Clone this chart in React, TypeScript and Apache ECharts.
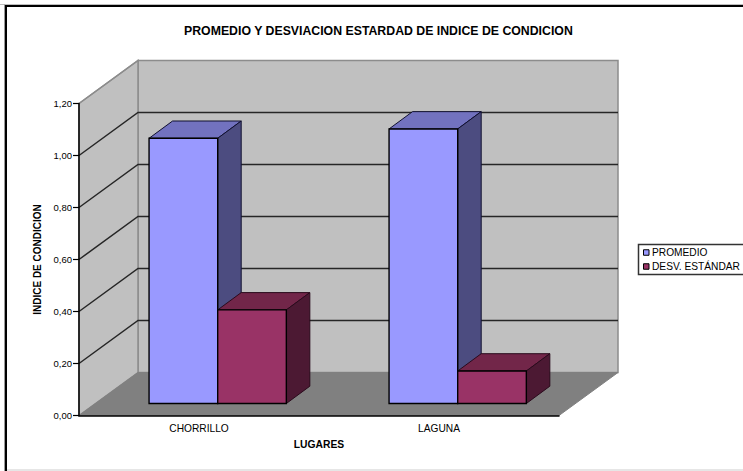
import React, { useEffect, useRef } from "react";
import * as echarts from "echarts";

const chartTitle = "PROMEDIO Y DESVIACION ESTARDAD DE INDICE DE CONDICION";
const categories = ["CHORRILLO", "LAGUNA"];
const promedio = [1.02, 1.056];
const desviacion = [0.36, 0.125];
const yTicks = [0.2, 0.4, 0.6, 0.8, 1.0, 1.2];
const seriesNames = ["PROMEDIO", "DESV. ESTÁNDAR"];

const FONT = '"Liberation Sans", Arial, sans-serif';

// Oblique projection of the box that holds the plot.
const WALL_DX = 59;
const WALL_DY = -43;
// Where the bars stand inside that box, and how deep they are.
const BAR_FRONT_DX = 18.7;
const BAR_FRONT_DY = -12;
const BAR_DEPTH_DX = 23.5;
const BAR_DEPTH_DY = -17.3;
const BAR_BAND_RATIO = 0.286;

const palette = [
  { front: "#9999FF", top: "#7272BF", side: "#4C4C80" },
  { front: "#993366", top: "#722649", side: "#4C1933" },
];

function poly(points: number[][], fill: string, stroke: string, lineWidth = 1) {
  return { type: "polygon", shape: { points }, style: { fill, stroke, lineWidth } };
}

// Back wall, side wall and floor.
function renderWalls(params: any, api: any) {
  const cs = params.coordSys;
  const x0 = cs.x;
  const x1 = cs.x + cs.width;
  const yBase = api.coord([0, 0])[1];
  const yTop = api.coord([0, 1.2])[1];
  const edge = "#8C8C8C";
  return {
    type: "group",
    children: [
      poly(
        [[x0 + WALL_DX, yTop + WALL_DY], [x1 + WALL_DX, yTop + WALL_DY], [x1 + WALL_DX, yBase + WALL_DY], [x0 + WALL_DX, yBase + WALL_DY]],
        "#C0C0C0", edge, 1.5,
      ),
      poly(
        [[x0, yTop], [x0 + WALL_DX, yTop + WALL_DY], [x0 + WALL_DX, yBase + WALL_DY], [x0, yBase]],
        "#C0C0C0", edge, 1.5,
      ),
      poly(
        [[x0, yBase], [x1, yBase], [x1 + WALL_DX, yBase + WALL_DY], [x0 + WALL_DX, yBase + WALL_DY]],
        "#808080", "#808080", 1,
      ),
    ],
  };
}

// Grid line running along the side wall and across the back wall.
function renderGridLine(params: any, api: any) {
  const cs = params.coordSys;
  const y = api.coord([0, api.value(1)])[1];
  if (api.value(1) >= 1.2) {
    return {
      type: "line",
      shape: { x1: cs.x, y1: y, x2: cs.x + WALL_DX, y2: y + WALL_DY },
      style: { stroke: "#8C8C8C", lineWidth: 1.5 },
    };
  }
  return {
    type: "polyline",
    shape: { points: [[cs.x, y], [cs.x + WALL_DX, y + WALL_DY], [cs.x + cs.width + WALL_DX, y + WALL_DY]] },
    style: { fill: "none", stroke: "#262626", lineWidth: 1.5 },
  };
}

function barRenderer(seriesIndex: number) {
  return (_params: any, api: any) => {
    const colors = palette[seriesIndex];
    const center = api.coord([api.value(0), api.value(1)]);
    const yBase = api.coord([api.value(0), 0])[1] + BAR_FRONT_DY;
    const yTop = center[1] + BAR_FRONT_DY;
    const width = api.size([1, 0])[0] * BAR_BAND_RATIO;
    const left = center[0] - width + BAR_FRONT_DX + seriesIndex * width;
    const right = left + width;
    const edge = seriesIndex === 0 ? "#101030" : "#2A0A1C";
    return {
      type: "group",
      children: [
        poly(
          [[left, yTop], [right, yTop], [right + BAR_DEPTH_DX, yTop + BAR_DEPTH_DY], [left + BAR_DEPTH_DX, yTop + BAR_DEPTH_DY]],
          colors.top, edge, 1,
        ),
        poly(
          [[right, yTop], [right + BAR_DEPTH_DX, yTop + BAR_DEPTH_DY], [right + BAR_DEPTH_DX, yBase + BAR_DEPTH_DY], [right, yBase]],
          colors.side, edge, 1,
        ),
        poly([[left, yTop], [right, yTop], [right, yBase], [left, yBase]], colors.front, "#000000", 1.4),
      ],
    };
  };
}

export default function App() {
  const ref = useRef<HTMLDivElement>(null);

  useEffect(() => {
    const chart = echarts.init(ref.current!, undefined, { renderer: "svg" });
    chart.setOption({
      animation: false,
      backgroundColor: "#FFFFFF",
      textStyle: { fontFamily: FONT },
      title: {
        text: chartTitle,
        left: 184,
        top: 25,
        padding: 0,
        textStyle: { fontFamily: FONT, fontSize: 12.3, fontWeight: "bold", color: "#000000" },
      },
      legend: {
        orient: "vertical",
        left: 638.5,
        top: 244.5,
        padding: [3, 12, 3, 4.5],
        itemWidth: 5.5,
        itemHeight: 5.5,
        itemGap: 4,
        borderColor: "#333333",
        borderWidth: 1.5,
        icon: "rect",
        selectedMode: false,
        textStyle: { fontFamily: FONT, fontSize: 10.2, color: "#000000", padding: [0, 0, 0, -2] },
        data: seriesNames.map((name, i) => ({
          name,
          itemStyle: { color: palette[i].front, borderColor: "#000000", borderWidth: 1 },
        })),
      },
      grid: { left: 79, top: 103.5, width: 480, height: 312, containLabel: false },
      xAxis: {
        type: "category",
        data: categories,
        z: 6,
        name: "LUGARES",
        nameLocation: "middle",
        nameGap: 24,
        nameTextStyle: { fontFamily: FONT, fontSize: 10.3, fontWeight: "bold", color: "#000000" },
        axisLine: { lineStyle: { color: "#000000", width: 1.5 } },
        axisTick: { alignWithLabel: false, length: 5, lineStyle: { color: "#000000", width: 1.2 } },
        axisLabel: { fontFamily: FONT, fontSize: 10.2, color: "#000000", margin: 8 },
      },
      yAxis: {
        type: "value",
        min: 0,
        max: 1.2,
        interval: 0.2,
        z: 6,
        name: "INDICE DE CONDICION",
        nameLocation: "middle",
        nameGap: 36,
        nameTextStyle: { fontFamily: FONT, fontSize: 10, fontWeight: "bold", color: "#000000" },
        splitLine: { show: false },
        axisLine: { show: true, lineStyle: { color: "#000000", width: 1.5 } },
        axisTick: { show: true, length: 6, lineStyle: { color: "#000000", width: 1.2 } },
        axisLabel: {
          fontFamily: FONT,
          fontSize: 9.5,
          color: "#000000",
          margin: 7,
          formatter: (v: number) => v.toFixed(2).replace(".", ","),
        },
      },
      series: [
        {
          type: "custom",
          name: "walls",
          silent: true,
          z: 1,
          renderItem: renderWalls,
          data: [[0, 0]],
        },
        {
          type: "custom",
          name: "gridlines",
          silent: true,
          z: 2,
          renderItem: renderGridLine,
          data: yTicks.map((v) => [0, v]),
        },
        {
          type: "custom",
          name: seriesNames[0],
          z: 3,
          itemStyle: { color: palette[0].front },
          renderItem: barRenderer(0),
          data: promedio.map((v, i) => [i, v]),
        },
        {
          type: "custom",
          name: seriesNames[1],
          z: 4,
          itemStyle: { color: palette[1].front },
          renderItem: barRenderer(1),
          data: desviacion.map((v, i) => [i, v]),
        },
      ],
      graphic: [
        // Outer frame: black on the top and left, faint on the bottom.
        { type: "line", shape: { x1: 0, y1: 4.5, x2: 743, y2: 4.5 }, style: { stroke: "#BDBDBD", lineWidth: 1 }, z: 10 },
        { type: "line", shape: { x1: 4.5, y1: 4.5, x2: 4.5, y2: 471 }, style: { stroke: "#9A9A9A", lineWidth: 1 }, z: 10 },
        { type: "line", shape: { x1: 5, y1: 6, x2: 743, y2: 6 }, style: { stroke: "#000000", lineWidth: 2 }, z: 10 },
        { type: "line", shape: { x1: 6, y1: 5, x2: 6, y2: 471 }, style: { stroke: "#000000", lineWidth: 2 }, z: 10 },
        { type: "line", shape: { x1: 7, y1: 470, x2: 743, y2: 470 }, style: { stroke: "#E6E6E6", lineWidth: 2 }, z: 10 },
      ],
    });
    return () => chart.dispose();
  }, []);

  return <div ref={ref} style={{ position: "absolute", left: 0, top: 0, width: 743, height: 471 }} />;
}
